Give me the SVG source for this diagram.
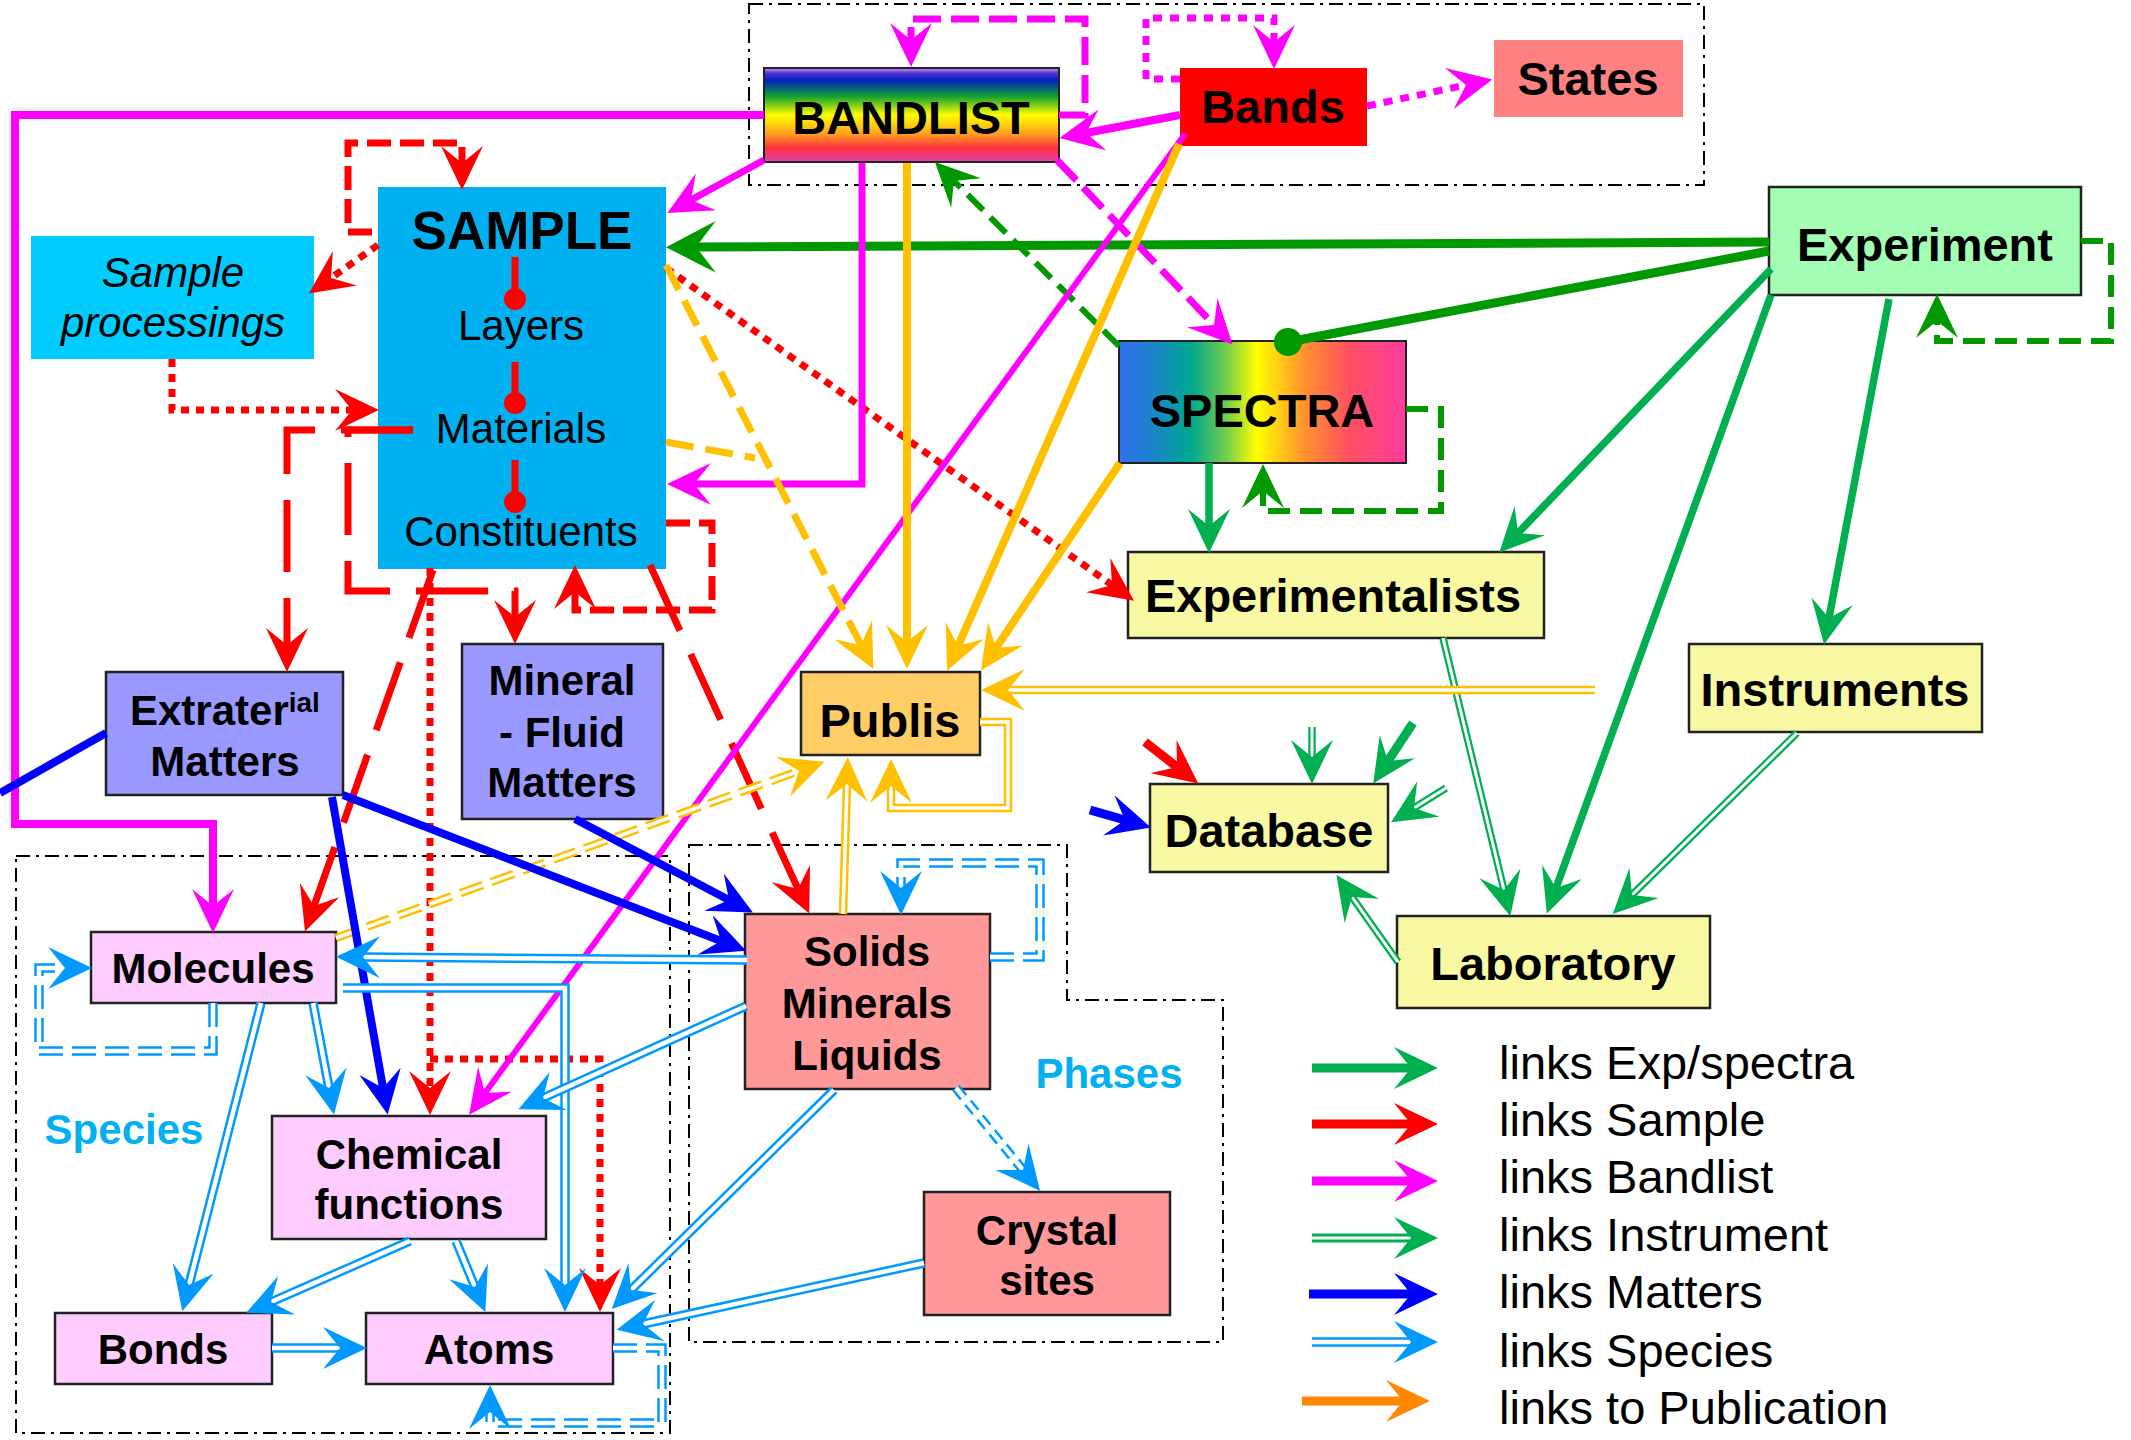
<svg xmlns="http://www.w3.org/2000/svg" width="2131" height="1440" viewBox="0 0 2131 1440">
<defs>
  <style>
    text { font-family: "Liberation Sans", Arial, sans-serif; fill: #000; }
    .t47 { font-weight: bold; font-size: 47px; text-anchor: middle; }
    .t42 { font-weight: bold; font-size: 42px; text-anchor: middle; }
    .t42r { font-size: 42px; text-anchor: middle; }
    .leg { font-size: 47px; }
    .grp { fill: none; stroke: #000; stroke-width: 2; stroke-dasharray: 14 6 3 6; }
    .bx { stroke: #222; stroke-width: 2.5; }
    .k { fill: none; stroke-linecap: butt; stroke-linejoin: miter; }
    .cg { stroke: #00b050; stroke-width: 7.5; marker-end: url(#ag); }
    .cdg { stroke: #009900; stroke-width: 9; }
    .cdgd { stroke: #009900; stroke-width: 6; stroke-dasharray: 22 10; marker-end: url(#adg); }
    .cr { stroke: #ff0000; stroke-width: 7; marker-end: url(#ar); }
    .cm { stroke: #ff00ff; stroke-width: 7; marker-end: url(#am); }
    .co { stroke: #ffc000; stroke-width: 8; marker-end: url(#ao); }
    .cb { stroke: #0000ff; stroke-width: 8; marker-end: url(#ab); }
    .dlb { stroke: #0099ff; stroke-width: 9.5; }
    .wlb { stroke: #fff; stroke-width: 4.5; marker-end: url(#alb); }
    .dgn { stroke: #00b050; stroke-width: 7.5; }
    .wgn { stroke: #fff; stroke-width: 3; marker-end: url(#ag); }
    .dor { stroke: #ffc000; stroke-width: 8.5; }
    .wor { stroke: #fff; stroke-width: 3.5; marker-end: url(#ao); }
    .dot { stroke-dasharray: 8 7; }
    .dash { stroke-dasharray: 24 9; }
    .ldash { stroke-dasharray: 72 26; }
    .sdash { stroke-dasharray: 12 7; }
    .nm { marker-end: none; }
  </style>
  <linearGradient id="gBand" x1="0" y1="0" x2="0" y2="1">
    <stop offset="0" stop-color="#c090ff"/>
    <stop offset="0.06" stop-color="#5030d0"/>
    <stop offset="0.13" stop-color="#0020c0"/>
    <stop offset="0.3" stop-color="#10a030"/>
    <stop offset="0.5" stop-color="#ffff00"/>
    <stop offset="0.7" stop-color="#ffa020"/>
    <stop offset="0.85" stop-color="#ff3040"/>
    <stop offset="1" stop-color="#e040b0"/>
  </linearGradient>
  <linearGradient id="gSpec" x1="0" y1="0" x2="1" y2="0">
    <stop offset="0" stop-color="#3070f0"/>
    <stop offset="0.1" stop-color="#2080d0"/>
    <stop offset="0.25" stop-color="#00a890"/>
    <stop offset="0.37" stop-color="#70cc50"/>
    <stop offset="0.48" stop-color="#ffff00"/>
    <stop offset="0.65" stop-color="#ff9030"/>
    <stop offset="0.8" stop-color="#ff5060"/>
    <stop offset="1" stop-color="#ff3ca0"/>
  </linearGradient>
  <!-- notched arrowheads; the path ends at the notch -->
  <marker id="ag" markerUnits="userSpaceOnUse" markerWidth="44" markerHeight="42" refX="17" refY="21" orient="auto"><path d="M0,0 L44,21 L0,42 L17,21 Z" fill="#00b050"/></marker>
  <marker id="adg" markerUnits="userSpaceOnUse" markerWidth="44" markerHeight="42" refX="17" refY="21" orient="auto"><path d="M0,0 L44,21 L0,42 L17,21 Z" fill="#009900"/></marker>
  <marker id="adgL" markerUnits="userSpaceOnUse" markerWidth="50" markerHeight="52" refX="20" refY="26" orient="auto"><path d="M0,0 L50,26 L0,52 L20,26 Z" fill="#009900"/></marker>
  <marker id="ar" markerUnits="userSpaceOnUse" markerWidth="44" markerHeight="42" refX="17" refY="21" orient="auto"><path d="M0,0 L44,21 L0,42 L17,21 Z" fill="#ff0000"/></marker>
  <marker id="am" markerUnits="userSpaceOnUse" markerWidth="44" markerHeight="42" refX="17" refY="21" orient="auto"><path d="M0,0 L44,21 L0,42 L17,21 Z" fill="#ff00ff"/></marker>
  <marker id="ao" markerUnits="userSpaceOnUse" markerWidth="44" markerHeight="42" refX="17" refY="21" orient="auto"><path d="M0,0 L44,21 L0,42 L17,21 Z" fill="#ffc000"/></marker>
  <marker id="ab" markerUnits="userSpaceOnUse" markerWidth="44" markerHeight="42" refX="17" refY="21" orient="auto"><path d="M0,0 L44,21 L0,42 L17,21 Z" fill="#0000ff"/></marker>
  <marker id="alb" markerUnits="userSpaceOnUse" markerWidth="44" markerHeight="42" refX="17" refY="21" orient="auto"><path d="M0,0 L44,21 L0,42 L17,21 Z" fill="#0099ff"/></marker>
  <marker id="aor" markerUnits="userSpaceOnUse" markerWidth="44" markerHeight="42" refX="17" refY="21" orient="auto"><path d="M0,0 L44,21 L0,42 L17,21 Z" fill="#ff8800"/></marker>
</defs>

<rect width="2131" height="1440" fill="#fff"/>

<!-- dash-dot group frames -->
<g id="frames">
  <rect class="grp" x="749" y="4" width="955" height="181"/>
  <rect class="grp" x="16" y="856" width="654" height="577"/>
  <path class="grp" d="M689,845 H1067 V1000 H1223 V1342 H689 Z"/>
  <text x="124" y="1144" style="font-weight:bold;font-size:42px;text-anchor:middle;fill:#00b0f0">Species</text>
  <text x="1109" y="1088" style="font-weight:bold;font-size:42px;text-anchor:middle;fill:#00b0f0">Phases</text>
</g>

<!-- nodes -->
<g id="n-bandlist">
  <rect x="764" y="68" width="295" height="94" fill="url(#gBand)" stroke="#222" stroke-width="2"/>
  <text class="t47" x="911" y="134">BANDLIST</text>
</g>
<g id="n-bands">
  <rect x="1180" y="68" width="187" height="78" fill="#ff0000"/>
  <text class="t47" x="1273" y="123">Bands</text>
</g>
<g id="n-states">
  <rect x="1494" y="40" width="189" height="77" fill="#ff8080"/>
  <text class="t47" x="1588" y="95">States</text>
</g>
<g id="n-sample">
  <rect x="378" y="187" width="288" height="382" fill="#00b0f0"/>
  <text x="522" y="249" style="font-weight:bold;font-size:53px;text-anchor:middle">SAMPLE</text>
  <g fill="#ff0000" stroke="#ff0000" stroke-width="7">
    <line x1="515" y1="257" x2="515" y2="299"/>
    <line x1="515" y1="362" x2="515" y2="403"/>
    <line x1="515" y1="460" x2="515" y2="502"/>
    <circle cx="515" cy="299" r="9" stroke-width="4"/>
    <circle cx="515" cy="403" r="9" stroke-width="4"/>
    <circle cx="515" cy="502" r="9" stroke-width="4"/>
  </g>
  <text class="t42r" x="521" y="340">Layers</text>
  <text class="t42r" x="521" y="443">Materials</text>
  <text class="t42r" x="521" y="546">Constituents</text>
</g>
<g id="n-processings">
  <rect x="31" y="236" width="283" height="123" fill="#00ccff"/>
  <text class="t42r" x="173" y="287" font-style="italic">Sample</text>
  <text class="t42r" x="173" y="337" font-style="italic">processings</text>
</g>
<g id="n-spectra">
  <rect x="1119" y="341" width="287" height="122" fill="url(#gSpec)" stroke="#222" stroke-width="2"/>
  <text class="t47" x="1262" y="427">SPECTRA</text>
</g>
<g id="n-experiment">
  <rect class="bx" x="1769" y="187" width="312" height="108" fill="#a3fdb3"/>
  <text class="t47" x="1925" y="261">Experiment</text>
</g>
<g id="n-experimentalists">
  <rect class="bx" x="1128" y="552" width="416" height="86" fill="#f8f9a2"/>
  <text class="t47" x="1333" y="612">Experimentalists</text>
</g>
<g id="n-instruments">
  <rect class="bx" x="1689" y="644" width="293" height="88" fill="#f8f9a2"/>
  <text class="t47" x="1835" y="706">Instruments</text>
</g>
<g id="n-laboratory">
  <rect class="bx" x="1397" y="916" width="313" height="92" fill="#f8f9a2"/>
  <text class="t47" x="1553" y="980">Laboratory</text>
</g>
<g id="n-database">
  <rect class="bx" x="1150" y="784" width="238" height="88" fill="#f8f9a2"/>
  <text class="t47" x="1269" y="847">Database</text>
</g>
<g id="n-publis">
  <rect class="bx" x="801" y="672" width="179" height="83" fill="#ffcc66"/>
  <text class="t47" x="890" y="737">Publis</text>
</g>
<g id="n-extraterrestrial">
  <rect class="bx" x="106" y="672" width="237" height="123" fill="#9999ff"/>
  <text class="t42" x="130" y="725" style="text-anchor:start">Extrater<tspan font-size="28" dy="-13">ial</tspan></text>
  <text class="t42" x="225" y="776">Matters</text>
</g>
<g id="n-mineral-fluid">
  <rect class="bx" x="462" y="644" width="201" height="175" fill="#9999ff"/>
  <text class="t42" x="562" y="695">Mineral</text>
  <text class="t42" x="562" y="747">- Fluid</text>
  <text class="t42" x="562" y="797">Matters</text>
</g>
<g id="n-solids">
  <rect class="bx" x="745" y="914" width="245" height="175" fill="#ff9999"/>
  <text class="t42" x="867" y="966">Solids</text>
  <text class="t42" x="867" y="1018">Minerals</text>
  <text class="t42" x="867" y="1070">Liquids</text>
</g>
<g id="n-crystal">
  <rect class="bx" x="924" y="1192" width="246" height="123" fill="#ff9999"/>
  <text class="t42" x="1047" y="1245">Crystal</text>
  <text class="t42" x="1047" y="1295">sites</text>
</g>
<g id="n-molecules">
  <rect class="bx" x="91" y="932" width="245" height="71" fill="#ffccff"/>
  <text class="t42" x="213" y="983">Molecules</text>
</g>
<g id="n-chemical">
  <rect class="bx" x="272" y="1116" width="274" height="123" fill="#ffccff"/>
  <text class="t42" x="409" y="1169">Chemical</text>
  <text class="t42" x="409" y="1219">functions</text>
</g>
<g id="n-bonds">
  <rect class="bx" x="55" y="1313" width="217" height="71" fill="#ffccff"/>
  <text class="t42" x="163" y="1364">Bonds</text>
</g>
<g id="n-atoms">
  <rect class="bx" x="366" y="1313" width="247" height="71" fill="#ffccff"/>
  <text class="t42" x="489" y="1364">Atoms</text>
</g>

<!-- connectors -->
<g id="connectors" class="k">
  <!-- experiment / spectra links -->
  <path class="k cg" d="M1771,269 L1518,533"/>
  <path class="k cg" d="M1771,295 L1556,888"/>
  <path class="k cg" d="M1889,299 L1829,618"/>
  <path class="k cg" d="M1209,463 V526"/>
  <path class="k cg" style="stroke-width:9" d="M1413,723 L1388,761"/>
  <path class="k cdg" style="marker-end:url(#adgL)" d="M1769,242 L696,247"/>
  <path class="k cdg" d="M1769,251 L1288,342"/>
  <circle cx="1288" cy="342" r="14" fill="#009900"/>
  <path class="k cdgd" d="M1119,346 L954,181"/>
  <path class="k cdgd" d="M1406,409 H1441 V511 H1263 V491"/>
  <path class="k cdgd" d="M2081,241 H2111 V341 H1937 V321"/>

  <!-- instrument links (double) -->
  <path class="k dgn" d="M1443,638 L1504,890"/><path class="k wgn" d="M1443,638 L1504,890"/>
  <path class="k dgn" d="M1797,733 L1632,895"/><path class="k wgn" d="M1797,733 L1632,895"/>
  <path class="k dgn" d="M1398,962 L1352,897"/><path class="k wgn" d="M1398,962 L1352,897"/>
  <path class="k dgn" d="M1312,727 V757"/><path class="k wgn" d="M1312,727 V757"/>
  <path class="k dgn" d="M1446,788 L1414,808"/><path class="k wgn" d="M1446,788 L1414,808"/>

  <!-- sample links -->
  <path class="k cr dash" d="M372,232 H348 V143 H462 V163"/>
  <path class="k cr dot" d="M378,245 L331,278"/>
  <path class="k cr dot" d="M172,359 V410 H352"/>
  <path class="k cr ldash" d="M413,430 H287 V645"/>
  <path class="k cr ldash" d="M413,430 H348 V591 H515 V617"/>
  <path class="k cr ldash" d="M433,570 L314,906"/>
  <path class="k cr ldash" d="M650,565 L798,889"/>
  <path class="k cr dot" d="M430,568 V1088"/>
  <path class="k cr dot" d="M430,1059 H600 V1285"/>
  <path class="k cr dot" d="M666,268 L1112,585"/>
  <path class="k cr dash" d="M666,523 H712 V610 H575 V592"/>
  <path class="k cr" style="stroke-width:9" d="M1145,742 L1177,767"/>

  <!-- bandlist links -->
  <path class="k cm" style="stroke-width:8" d="M764,115 H15 V824 H213 V906"/>
  <path class="k cm" d="M764,160 L691,200"/>
  <path class="k cm" d="M862,163 V484 H694"/>
  <path class="k cm" style="stroke-dasharray:28 10" d="M1057,160 L1214,325"/>
  <path class="k cm" style="stroke-dasharray:28 10" d="M1059,115 H1085 V19 H911 V40"/>
  <path class="k cm" style="stroke-width:8" d="M1180,115 L1086,133"/>
  <path class="k cm" style="stroke-dasharray:9 8" d="M1180,79 H1146 V18 H1274 V42"/>
  <path class="k cm" style="stroke-dasharray:9 8" d="M1367,106 L1466,85"/>
  <path class="k cm" style="stroke-width:6" d="M1185,134 L485,1093"/>

  <!-- publication links -->
  <path class="k co" d="M907,163 V642"/>
  <path class="k co" d="M1179,144 L958,646"/>
  <path class="k co" d="M1120,463 L996,648"/>
  <path class="k co" style="stroke-width:7;stroke-dasharray:28 12" d="M666,265 L861,645"/>
  <path class="k co nm" style="stroke-width:7;stroke-dasharray:28 12" d="M666,442 L755,458"/>
  <path class="k dor" d="M1595,690 H1008"/><path class="k wor" d="M1595,690 H1008"/>
  <path class="k dor" d="M980,722 H1008 V808 H891 V786"/><path class="k wor" d="M980,722 H1008 V808 H891 V786"/>
  <path class="k dor" d="M843,914 L847,784"/><path class="k wor" d="M843,914 L847,784"/>
  <path class="k dor dash" d="M336,938 L799,771"/><path class="k wor dash" d="M336,938 L799,771"/>

  <!-- matters links -->
  <path class="k cb nm" d="M0,793 L106,733"/>
  <path class="k cb" d="M343,795 L721,941"/>
  <path class="k cb" d="M575,819 L729,900"/>
  <path class="k cb" d="M332,797 L383,1088"/>
  <path class="k cb" style="stroke-width:9" d="M1090,810 L1125,820"/>

  <!-- species links (double) -->
  <path class="k dlb" d="M747,960 L363,957"/><path class="k wlb" d="M747,960 L363,957"/>
  <path class="k dlb" d="M343,988 H565 V1285"/><path class="k wlb" d="M343,988 H565 V1285"/>
  <path class="k dlb dash" d="M213,1003 V1051 H39 V968 H65"/><path class="k wlb dash" d="M213,1003 V1051 H39 V968 H65"/>
  <path class="k dlb" d="M261,1003 L189,1285"/><path class="k wlb" d="M261,1003 L189,1285"/>
  <path class="k dlb" d="M313,1003 L329,1088"/><path class="k wlb" d="M313,1003 L329,1088"/>
  <path class="k dlb" d="M746,1006 L543,1098"/><path class="k wlb" d="M746,1006 L543,1098"/>
  <path class="k dlb" d="M410,1241 L271,1302"/><path class="k wlb" d="M410,1241 L271,1302"/>
  <path class="k dlb" d="M456,1241 L475,1287"/><path class="k wlb" d="M456,1241 L475,1287"/>
  <path class="k dlb" d="M272,1348 H340"/><path class="k wlb" d="M272,1348 H340"/>
  <path class="k dlb" d="M834,1090 L631,1290"/><path class="k wlb" d="M834,1090 L631,1290"/>
  <path class="k dlb" d="M924,1263 L643,1324"/><path class="k wlb" d="M924,1263 L643,1324"/>
  <path class="k dlb dash" d="M613,1348 H662 V1423 H490 V1412"/><path class="k wlb dash" d="M613,1348 H662 V1423 H490 V1412"/>
  <path class="k dlb dash" d="M990,957 H1040 V863 H901 V888"/><path class="k wlb dash" d="M990,957 H1040 V863 H901 V888"/>
  <path class="k dlb sdash" d="M956,1088 L1023,1170"/><path class="k wlb sdash" d="M956,1088 L1023,1170"/>
</g>

<!-- legend -->
<g id="legend">
  <path class="k cg" style="stroke-width:9" d="M1312,1068 H1411"/>
  <path class="k cr" style="stroke-width:9" d="M1312,1124 H1411"/>
  <path class="k cm" style="stroke-width:9" d="M1312,1181 H1411"/>
  <path class="k dgn" style="stroke-width:9" d="M1312,1238 H1411"/><path class="k wgn" d="M1312,1238 H1411"/>
  <path class="k cb" style="stroke-width:9" d="M1309,1294 H1411"/>
  <path class="k dlb" d="M1312,1342 H1411"/><path class="k wlb" d="M1312,1342 H1411"/>
  <path class="k" style="stroke:#ff8800;stroke-width:9;marker-end:url(#aor)" d="M1302,1401 H1403"/>
  <text class="leg" x="1499" y="1079">links Exp/spectra</text>
  <text class="leg" x="1499" y="1136">links Sample</text>
  <text class="leg" x="1499" y="1193">links Bandlist</text>
  <text class="leg" x="1499" y="1251">links Instrument</text>
  <text class="leg" x="1499" y="1308">links Matters</text>
  <text class="leg" x="1499" y="1367">links Species</text>
  <text class="leg" x="1499" y="1424">links to Publication</text>
</g>
</svg>
